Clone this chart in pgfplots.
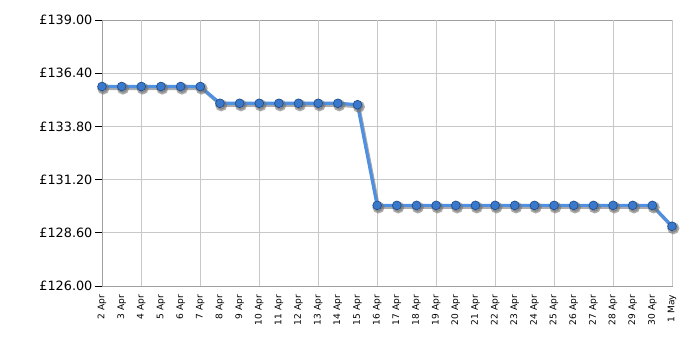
\documentclass[border=0pt]{standalone}
\usepackage{fontspec}
\setmainfont{DejaVu Sans}
\usepackage{pgfplots}
\pgfplotsset{compat=1.18}
\definecolor{linecol}{HTML}{5090E0}
\definecolor{markcol}{HTML}{3A78CC}
\definecolor{markedge}{HTML}{1F4E8C}
\definecolor{gridcol}{HTML}{C8C8C8}
\definecolor{axcol}{HTML}{A0A0A0}
\begin{document}
\begin{tikzpicture}
\begin{axis}[
  at={(76.5pt,48pt)}, anchor=south west,
  scale only axis,
  width=427.5pt, height=199.5pt,
  xmin=0, xmax=29, ymin=126, ymax=139,
  ytick={126,128.6,131.2,133.8,136.4,139},
  yticklabels={\pounds126.00,\pounds128.60,\pounds131.20,\pounds133.80,\pounds136.40,\pounds139.00},
  xtick={0,...,29},
  xticklabels={2 Apr,3 Apr,4 Apr,5 Apr,6 Apr,7 Apr,8 Apr,9 Apr,10 Apr,11 Apr,12 Apr,13 Apr,14 Apr,15 Apr,16 Apr,17 Apr,18 Apr,19 Apr,20 Apr,21 Apr,22 Apr,23 Apr,24 Apr,25 Apr,26 Apr,27 Apr,28 Apr,29 Apr,30 Apr,1 May},
  extra x ticks={2,5,8,11,14,17,20,23,26,29},
  extra x tick labels={},
  extra x tick style={grid=major, major tick length=4pt, tick style={black, line width=0.6pt}, major grid style={gridcol, line width=0.6pt}},
  x tick label style={rotate=90, anchor=east, font=\fontsize{6.8}{8}\selectfont, inner sep=1.5pt},
  y tick label style={font=\fontsize{9.6}{11}\selectfont, inner sep=2pt},
  major x tick style={draw=none},
  ymajorgrids, major grid style={gridcol, line width=0.6pt},
  ytick style={black, line width=0.6pt},
  major tick length=5pt,
  tick align=outside,
  xtick pos=bottom, ytick pos=left,
  axis line style={axcol, line width=0.7pt},
  clip=false,
]
\addplot[black!55, opacity=0.6, line width=2.4pt, xshift=1pt, yshift=-1.5pt,
  mark=*, mark size=3.3pt, mark options={fill=black!55, draw=none}]
  coordinates {
(0,135.75)(1,135.75)(2,135.75)(3,135.75)(4,135.75)(5,135.75)
(6,134.93)(7,134.93)(8,134.93)(9,134.93)(10,134.93)(11,134.93)(12,134.93)(13,134.86)
(14,129.94)(15,129.94)(16,129.94)(17,129.94)(18,129.94)(19,129.94)(20,129.94)(21,129.94)
(22,129.94)(23,129.94)(24,129.94)(25,129.94)(26,129.94)(27,129.94)(28,129.94)(29,128.92)
};
\addplot[linecol, line width=2.4pt,
  mark=*, mark size=3.3pt, mark options={fill=markcol, draw=markedge, line width=0.5pt}]
  coordinates {
(0,135.75)(1,135.75)(2,135.75)(3,135.75)(4,135.75)(5,135.75)
(6,134.93)(7,134.93)(8,134.93)(9,134.93)(10,134.93)(11,134.93)(12,134.93)(13,134.86)
(14,129.94)(15,129.94)(16,129.94)(17,129.94)(18,129.94)(19,129.94)(20,129.94)(21,129.94)
(22,129.94)(23,129.94)(24,129.94)(25,129.94)(26,129.94)(27,129.94)(28,129.94)(29,128.92)
};
\end{axis}
\pgfresetboundingbox
\path (0pt,0pt) rectangle (525pt,262.5pt);
\end{tikzpicture}
\end{document}
